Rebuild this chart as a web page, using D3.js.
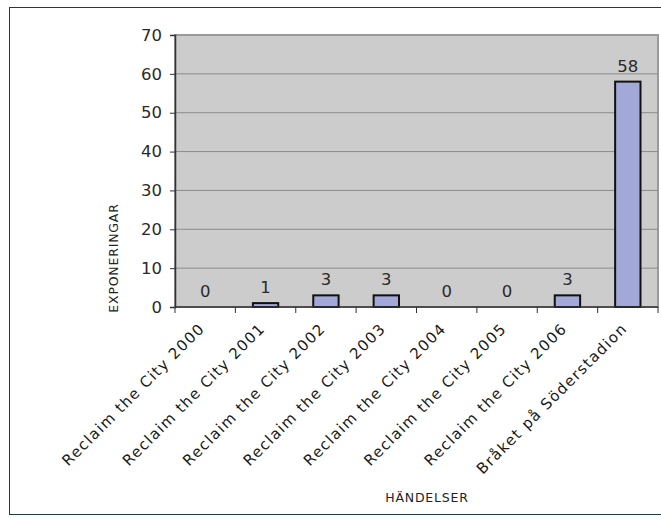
<!DOCTYPE html>
<html><head><meta charset="utf-8">
<script src="https://cdn.jsdelivr.net/npm/d3@7"></script>
<style>body{margin:0;background:#fff}svg{display:block;font-family:"DejaVu Sans",Verdana,sans-serif}</style>
</head><body><svg id="c" width="661" height="518"></svg>
<script>
const categories = ["Reclaim the City 2000","Reclaim the City 2001","Reclaim the City 2002","Reclaim the City 2003","Reclaim the City 2004","Reclaim the City 2005","Reclaim the City 2006","Bråket på Söderstadion"];
const values = [0,1,3,3,0,0,3,58];
const yTicks = [0,10,20,30,40,50,60,70];
const yTitle = "EXPONERINGAR";
const xTitle = "HÄNDELSER";

const svg = d3.select("#c");
svg.append("rect").attr("x",9.5).attr("y",7.5).attr("width",660).attr("height",507)
  .attr("fill","#fff").attr("stroke","#1f3a4d").attr("stroke-width",1);

const L=175, R=658, T=35, B=307;
const x = d3.scaleBand().domain(categories).range([L,R]).paddingInner(0.58).paddingOuter(0.29);
const y = d3.scaleLinear().domain([0,70]).range([B,T]);

svg.append("rect").attr("x",L).attr("y",T).attr("width",R-L).attr("height",B-T)
  .attr("fill","#cccccc").attr("stroke","#9a9a9a").attr("stroke-width",2);

svg.append("g").selectAll("line").data(yTicks.filter(d=>d>0&&d<70)).join("line")
  .attr("x1",L).attr("x2",R).attr("y1",d=>y(d)).attr("y2",d=>y(d))
  .attr("stroke","#8c8c8c").attr("stroke-width",1);

svg.append("g").selectAll("rect").data(values).join("rect")
  .attr("x",(d,i)=>x(categories[i])).attr("width",x.bandwidth())
  .attr("y",d=>y(d)).attr("height",d=>B-y(d))
  .attr("fill","#a2a9d8").attr("stroke","#111").attr("stroke-width",2);

svg.append("g").selectAll("text").data(values).join("text")
  .attr("x",(d,i)=>x(categories[i])+x.bandwidth()/2).attr("y",d=>y(d)-10)
  .attr("text-anchor","middle").attr("font-size",16.5).attr("fill","#2a2a2a").text(d=>d);

// y axis
const ya = svg.append("g").attr("transform",`translate(${L},0)`)
  .call(d3.axisLeft(y).tickValues(yTicks).tickSize(5).tickPadding(8));
ya.select(".domain").attr("stroke","#333").attr("stroke-width",1.5);
ya.selectAll(".tick line").attr("stroke","#333");
ya.selectAll("text").attr("font-size",16.5).attr("fill","#2a2a2a").attr("font-family","DejaVu Sans");

// x axis with boundary ticks
const bounds = d3.range(categories.length+1).map(i=>L+i*(R-L)/categories.length);
svg.append("line").attr("x1",L).attr("x2",R).attr("y1",B).attr("y2",B).attr("stroke","#333").attr("stroke-width",1.5);
svg.append("g").selectAll("line").data(bounds).join("line")
  .attr("x1",d=>d).attr("x2",d=>d).attr("y1",B).attr("y2",B+6).attr("stroke","#333");

svg.append("g").selectAll("text").data(categories).join("text")
  .attr("transform",d=>`translate(${x(d)+x.bandwidth()/2-7},${B+15}) rotate(-45)`)
  .attr("text-anchor","end").attr("dy","0.7em").attr("font-size",15).attr("letter-spacing",1.35)
  .attr("fill","#1a1a1a").text(d=>d);

svg.append("text").attr("transform",`translate(118,258) rotate(-90)`)
  .attr("text-anchor","middle").attr("font-size",12.5).attr("letter-spacing",0.8).attr("fill","#222").text(yTitle);
svg.append("text").attr("x",427).attr("y",502)
  .attr("text-anchor","middle").attr("font-size",12.5).attr("letter-spacing",0.8).attr("fill","#222").text(xTitle);
</script></body></html>
